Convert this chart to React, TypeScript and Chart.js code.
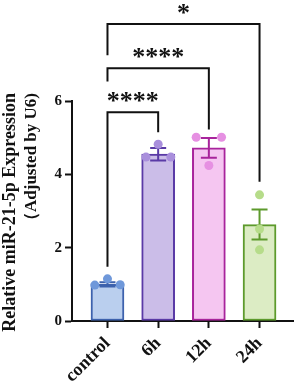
import React, { useEffect, useRef } from "react";
import { Chart, registerables } from "chart.js";

Chart.register(...registerables);

const categories = ["control", "6h", "12h", "24h"];
const means = [1.0, 4.55, 4.72, 2.63];
const sems = [0.06, 0.17, 0.27, 0.41];
const replicates = [
  [0.98, 1.15, 0.99],
  [4.47, 4.82, 4.47],
  [5.01, 4.24, 5.01],
  [3.44, 2.51, 1.94],
];
const jitter = [
  [-0.25, 0, 0.25],
  [-0.24, 0, 0.25],
  [-0.25, 0, 0.25],
  [0, 0, 0],
];
const yTicks = [0, 2, 4, 6];
const fills = ["#bacfee", "#cbbde8", "#f5c6f1", "#dcecc4"];
const borders = ["#3d62ad", "#5a3aa6", "#a8249c", "#5d9a2c"];
const pointColors = ["#6f98da", "#a98fdc", "#e690e2", "#b6dc8a"];
const yTitle = ["Relative miR-21-5p Expression", "（Adjusted by U6)"];
const comparisons = [
  { from: 0, to: 1, label: "****", level: 5.69, fromBottom: 1.48, toBottom: 5.15 },
  { from: 0, to: 2, label: "****", level: 6.89, fromBottom: 6.53, toBottom: 5.22 },
  { from: 0, to: 3, label: "*", level: 8.1, fromBottom: 7.25, toBottom: 3.8 },
];

const FONT = "'Liberation Serif', 'Times New Roman', serif";

const overlayPlugin = {
  id: "overlay",
  afterDatasetDraw(chart: any, args: any) {
    if (args.index !== 0) return;
    const { ctx } = chart;
    const xs = chart.scales.x;
    const ys = chart.scales.y;
    ctx.save();
    ctx.lineWidth = 2;
    means.forEach((m, i) => {
      const x = xs.getPixelForValue(i);
      const yTop = ys.getPixelForValue(m + sems[i]);
      const yBot = ys.getPixelForValue(m - sems[i]);
      const cap = 8;
      ctx.strokeStyle = borders[i];
      ctx.beginPath();
      ctx.moveTo(x, yTop);
      ctx.lineTo(x, yBot);
      ctx.moveTo(x - cap, yTop);
      ctx.lineTo(x + cap, yTop);
      ctx.moveTo(x - cap, yBot);
      ctx.lineTo(x + cap, yBot);
      ctx.stroke();
    });
    ctx.restore();
  },
  afterDraw(chart: any) {
    const { ctx, chartArea } = chart;
    const xs = chart.scales.x;
    const ys = chart.scales.y;
    ctx.save();
    ctx.strokeStyle = "#111";
    ctx.fillStyle = "#111";
    ctx.lineWidth = 2;
    ctx.font = `bold 26px ${FONT}`;
    ctx.textAlign = "center";
    ctx.textBaseline = "alphabetic";
    comparisons.forEach((c) => {
      const x1 = xs.getPixelForValue(c.from);
      const x2 = xs.getPixelForValue(c.to);
      const yl = ys.getPixelForValue(c.level);
      ctx.beginPath();
      ctx.moveTo(x1, ys.getPixelForValue(c.fromBottom));
      ctx.lineTo(x1, yl);
      ctx.lineTo(x2, yl);
      ctx.lineTo(x2, ys.getPixelForValue(c.toBottom));
      ctx.stroke();
      ctx.fillText(c.label, (x1 + x2) / 2, yl - 3);
    });
    ctx.restore();

    // y-axis title, two lines, end-aligned near the top of the axis
    ctx.save();
    ctx.fillStyle = "#111";
    ctx.textAlign = "right";
    ctx.textBaseline = "middle";
    const sizes = [18, 17];
    const xCenters = [10, 32];
    yTitle.forEach((t, i) => {
      ctx.save();
      ctx.translate(xCenters[i], chartArea.top - 8);
      ctx.rotate(-Math.PI / 2);
      ctx.font = `bold ${sizes[i]}px ${FONT}`;
      ctx.fillText(t, 0, 0);
      ctx.restore();
    });
    ctx.restore();
  },
};

export default function App() {
  const ref = useRef<HTMLCanvasElement>(null);
  useEffect(() => {
    const canvas = ref.current;
    if (!canvas) return;
    const chart = new Chart(canvas, {
      type: "bar",
      data: {
        datasets: [
          {
            type: "bar",
            data: categories.map((_, i) => ({ x: i, y: means[i] })),
            backgroundColor: fills,
            borderColor: borders,
            borderWidth: 2,
            borderSkipped: false,
            barThickness: 33,
            order: 2,
          } as any,
          {
            type: "scatter",
            data: replicates.flatMap((r, i) => r.map((v, j) => ({ x: i + jitter[i][j], y: v }))),
            pointBackgroundColor: replicates.flatMap((r, i) => r.map(() => pointColors[i])),
            pointBorderWidth: 0,
            pointRadius: 4.5,
            order: 1,
          } as any,
        ],
      },
      options: {
        responsive: false,
        animation: false,
        devicePixelRatio: 1,
        layout: { padding: { top: 101, right: 3, left: 0, bottom: 0 } },
        plugins: { legend: { display: false }, tooltip: { enabled: false } },
        scales: {
          x: {
            type: "linear",
            offset: false,
            min: -0.7,
            max: 3.67,
            afterBuildTicks: (s: any) => {
              s.ticks = categories.map((_, i) => ({ value: i }));
            },
            afterFit: (s: any) => {
              s.height = 65;
            },
            ticks: {
              callback: (v: any) => categories[v] ?? "",
              minRotation: 45,
              maxRotation: 45,
              padding: 5,
              color: "#111",
              font: { family: FONT, weight: "bold", size: 18 },
            },
            grid: { offset: false, drawOnChartArea: false, drawTicks: true, tickLength: 7, tickColor: "#111", tickWidth: 2 },
            border: { color: "#111", width: 2 },
          },
          y: {
            type: "linear",
            min: 0,
            max: 6,
            afterBuildTicks: (s: any) => {
              s.ticks = yTicks.map((v) => ({ value: v }));
            },
            afterFit: (s: any) => {
              s.width = 72;
            },
            ticks: {
              padding: 3,
              color: "#111",
              font: { family: FONT, weight: "bold", size: 15 },
            },
            grid: { drawOnChartArea: false, drawTicks: true, tickLength: 7, tickColor: "#111", tickWidth: 2 },
            border: { color: "#111", width: 2 },
            title: { display: false },
          },
        },
      } as any,
      plugins: [overlayPlugin],
    });
    return () => chart.destroy();
  }, []);
  return (
    <div style={{ position: "absolute", left: 0, top: 0, width: 298, height: 386 }}>
      <canvas ref={ref} width={298} height={386} />
    </div>
  );
}
